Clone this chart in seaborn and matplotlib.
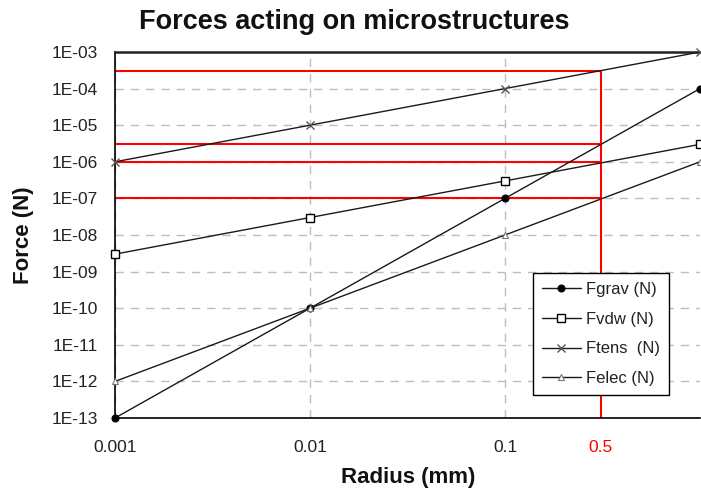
import numpy as np
import pandas as pd
import matplotlib
matplotlib.use("Agg")
import matplotlib.pyplot as plt
from matplotlib.ticker import FixedLocator, FixedFormatter, NullLocator
import seaborn as sns

# Particle radius (mm) and force magnitudes (N)
radius = [0.001, 0.01, 0.1, 1.0]
f_grav = [1e-13, 1e-10, 1e-07, 1e-04]
f_vdw = [3e-09, 3e-08, 3e-07, 3e-06]
f_tens = [1e-06, 1e-05, 1e-04, 1e-03]
f_elec = [1e-12, 1e-10, 1e-08, 1e-06]
series_names = ["Fgrav (N)", "Fvdw (N)", "Ftens  (N)", "Felec (N)"]

mark_radius = 0.31
mark_label = "0.5"
mark_levels = [3e-04, 3e-06, 1e-06, 1e-07]

x_ticks = [0.001, 0.01, 0.1]
x_tick_labels = ["0.001", "0.01", "0.1"]
y_exponents = list(range(-13, -2))

df = pd.DataFrame({
    "radius": radius * 4,
    "force": f_grav + f_vdw + f_tens + f_elec,
    "series": np.repeat(series_names, len(radius)),
})

sns.set_style("white")
plt.rcParams["font.family"] = ["Liberation Sans", "DejaVu Sans"]

W, H = 701, 491
fig = plt.figure(figsize=(W / 100, H / 100), dpi=100)
ax = fig.add_axes([115 / W, 1 - 418 / H, (700 - 115) / W, (418 - 52) / H])
ax.set_xscale("log")
ax.set_yscale("log")

line_color = "#1a1a1a"
styles = {
    "Fgrav (N)": dict(marker="o", markersize=5, markerfacecolor="black",
                      markeredgecolor="black", markeredgewidth=0.8),
    "Fvdw (N)": dict(marker="s", markersize=5.5, markerfacecolor="white",
                     markeredgecolor="black", markeredgewidth=1.0),
    "Ftens  (N)": dict(marker="x", markersize=6, markerfacecolor="none",
                       markeredgecolor="#555555", markeredgewidth=1.0),
    "Felec (N)": dict(marker="^", markersize=5, markerfacecolor="white",
                      markeredgecolor="#777777", markeredgewidth=0.8),
}

# Red guide lines at the highlighted radius
for lvl in mark_levels:
    ax.plot([radius[0], mark_radius], [lvl, lvl], color="#ff0000", lw=1.5, zorder=2)
ax.plot([mark_radius, mark_radius], [max(mark_levels), f_grav[0]],
        color="#ff0000", lw=1.5, zorder=2)

for name in series_names:
    sub = df[df["series"] == name]
    sns.lineplot(data=sub, x="radius", y="force", ax=ax, color=line_color,
                 lw=1.0, errorbar=None, label=name, clip_on=False, zorder=4,
                 **styles[name])

ax.set_xlim(radius[0], radius[-1])
ax.set_ylim(10.0 ** y_exponents[0], 10.0 ** y_exponents[-1])

ax.xaxis.set_major_locator(FixedLocator(x_ticks + [mark_radius]))
ax.xaxis.set_major_formatter(FixedFormatter(x_tick_labels + [mark_label]))
ax.xaxis.set_minor_locator(NullLocator())
ax.yaxis.set_major_locator(FixedLocator([10.0 ** e for e in y_exponents]))
ax.yaxis.set_major_formatter(FixedFormatter([f"1E-{-e:02d}" for e in y_exponents]))
ax.yaxis.set_minor_locator(NullLocator())

ax.grid(True, which="major", color="#bdbdbd", linestyle=(0, (6, 5)), lw=1.0)
ax.set_axisbelow(True)

ax.tick_params(axis="both", which="major", direction="out", length=5, width=1.0,
               color="black", labelsize=12.5, labelcolor="#222222")
ax.tick_params(axis="x", pad=11)
ax.tick_params(axis="y", pad=7)

mark_tick = ax.xaxis.get_major_ticks()[-1]
mark_tick.gridline.set_visible(False)
mark_tick.tick1line.set_color("#ff0000")
mark_tick.tick1line.set_markeredgewidth(1.5)
mark_tick.label1.set_color("#ff0000")

for side in ["left", "bottom"]:
    ax.spines[side].set_color("black")
    ax.spines[side].set_linewidth(1.2)
ax.spines["top"].set_color("#222222")
ax.spines["top"].set_linewidth(1.8)
ax.spines["right"].set_visible(False)

ax.set_xlabel("")
ax.set_ylabel("")
fig.text(408 / W, 1 - 477 / H, "Radius (mm)", ha="center", va="center",
         fontsize=16, fontweight="bold", color="#111111")
fig.text(24 / W, 1 - 235 / H, "Force (N)", ha="center", va="center",
         rotation=90, fontsize=16, fontweight="bold", color="#111111")
fig.text(354 / W, 1 - 22 / H, "Forces acting on microstructures", ha="center",
         va="center", fontsize=19.5, fontweight="bold", color="#111111")

leg = ax.legend(loc="upper left", bbox_to_anchor=(533 / W, 1 - 273 / H),
                bbox_transform=fig.transFigure, borderaxespad=0,
                frameon=True, fancybox=False, framealpha=1, edgecolor="black",
                fontsize=12, handlelength=2.3, handletextpad=0.3,
                labelspacing=0.88, borderpad=0.55)
leg.get_frame().set_linewidth(1.0)
for t in leg.get_texts():
    t.set_color("#222222")

fig.savefig("out.png", dpi=100)
